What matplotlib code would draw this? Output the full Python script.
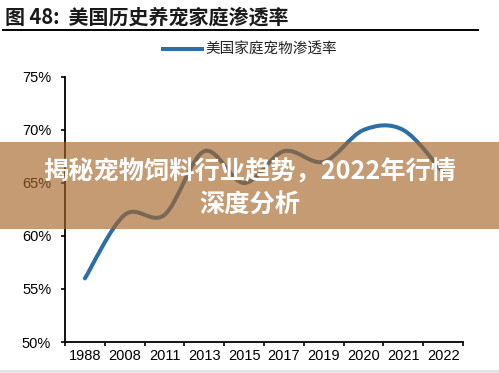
import matplotlib
matplotlib.use("Agg")
import matplotlib.pyplot as plt
from matplotlib.path import Path
from matplotlib.patches import PathPatch, Rectangle
from matplotlib.lines import Line2D
from matplotlib.ticker import FixedLocator, FuncFormatter

# ---- data ----
years = ["1988", "2008", "2011", "2013", "2015", "2017", "2019", "2020", "2021", "2022"]
penetration = [56, 62, 62, 68, 65, 68, 67, 70, 70, 66]   # %
yticks = [50, 55, 60, 65, 70, 75]
title = "图 48:  美国历史养宠家庭渗透率"
series_name = "美国家庭宠物渗透率"
banner_line1 = "揭秘宠物饲料行业趋势，2022年行情"
banner_line2 = "深度分析"

CJK = ["Noto Sans CJK SC", "DejaVu Sans"]
LAT = ["Liberation Sans", "DejaVu Sans"]
line_color = "#2E6EA6"

W, H = 499, 373
fig = plt.figure(figsize=(W / 100, H / 100), dpi=100)
fig.patch.set_facecolor("white")
ax = fig.add_axes([65 / W, 1 - 342 / H, (463 - 65) / W, (342 - 77) / H])

# smooth (Excel-like) curve via cubic Bezier segments through the data points
xs = list(range(len(years)))
ys = penetration
n = len(xs)
verts = [(xs[0], ys[0])]
codes = [Path.MOVETO]
for i in range(n - 1):
    p0 = (xs[max(i - 1, 0)], ys[max(i - 1, 0)])
    p1 = (xs[i], ys[i])
    p2 = (xs[i + 1], ys[i + 1])
    p3 = (xs[min(i + 2, n - 1)], ys[min(i + 2, n - 1)])
    c1 = (p1[0] + (p2[0] - p0[0]) / 6, p1[1] + (p2[1] - p0[1]) / 6)
    c2 = (p2[0] - (p3[0] - p1[0]) / 6, p2[1] - (p3[1] - p1[1]) / 6)
    verts += [c1, c2, p2]
    codes += [Path.CURVE4] * 3
curve = PathPatch(Path(verts, codes), facecolor="none", edgecolor=line_color,
                  linewidth=2.9, capstyle="round", joinstyle="round")
ax.add_patch(curve)

ax.set_xlim(-0.5, n - 0.5)
ax.set_ylim(50, 75)
for s in ["top", "right"]:
    ax.spines[s].set_visible(False)
for s in ["left", "bottom"]:
    ax.spines[s].set_linewidth(1.3)
    ax.spines[s].set_color("black")

ax.xaxis.set_major_locator(FixedLocator([i - 0.5 for i in range(n + 1)]))
ax.xaxis.set_minor_locator(FixedLocator(xs))
ax.set_xticklabels([])
ax.set_xticks(xs, minor=True)
ax.set_xticklabels(years, minor=True, fontfamily=LAT, fontsize=10.5)
ax.tick_params(axis="x", which="major", direction="out", length=3, width=1.2)
ax.tick_params(axis="x", which="minor", length=0, pad=5)
ax.set_yticks(yticks)
ax.yaxis.set_major_formatter(FuncFormatter(lambda v, p: f"{int(v)}%"))
ax.tick_params(axis="y", direction="out", length=3, width=1.2, pad=7, labelsize=10.5)
for lab in ax.get_yticklabels():
    lab.set_fontfamily(LAT)

# legend
handle = Line2D([], [], color=line_color, linewidth=2.9)
ax.legend([handle], [series_name], loc="center", bbox_to_anchor=(250 / W, 1 - 50 / H),
          bbox_transform=fig.transFigure, frameon=False, handlelength=2.7,
          handletextpad=0.2, prop={"family": CJK, "size": 10.5}, labelcolor="#222222")

# title and rule
fig.text(5 / W, 1 - 17 / H, title, fontfamily=CJK, fontsize=14.4, fontweight="bold",
         color="#1a1a1a", ha="left", va="center")
fig.add_artist(Line2D([3 / W, 478 / W], [1 - 30 / H, 1 - 30 / H], color="black",
                      linewidth=1.4, transform=fig.transFigure))

# overlay banner
fig.add_artist(Rectangle((0, 1 - 229 / H), 1, (229 - 142) / H, transform=fig.transFigure,
                         facecolor=(165 / 255, 101 / 255, 40 / 255), alpha=0.65,
                         edgecolor="none", zorder=5))
fig.text(250 / W, 1 - 172 / H, banner_line1, fontfamily=CJK, fontsize=18.2,
         fontweight="bold", color="white", ha="center", va="center", zorder=6)
fig.text(250 / W, 1 - 205 / H, banner_line2, fontfamily=CJK, fontsize=18.2,
         fontweight="bold", color="white", ha="center", va="center", zorder=6)

# bottom grey strip
fig.add_artist(Rectangle((0, 0), 1, 3 / H, transform=fig.transFigure,
                         facecolor="#e4e4e4", edgecolor="none", zorder=5))

fig.savefig("out.png", dpi=100)
